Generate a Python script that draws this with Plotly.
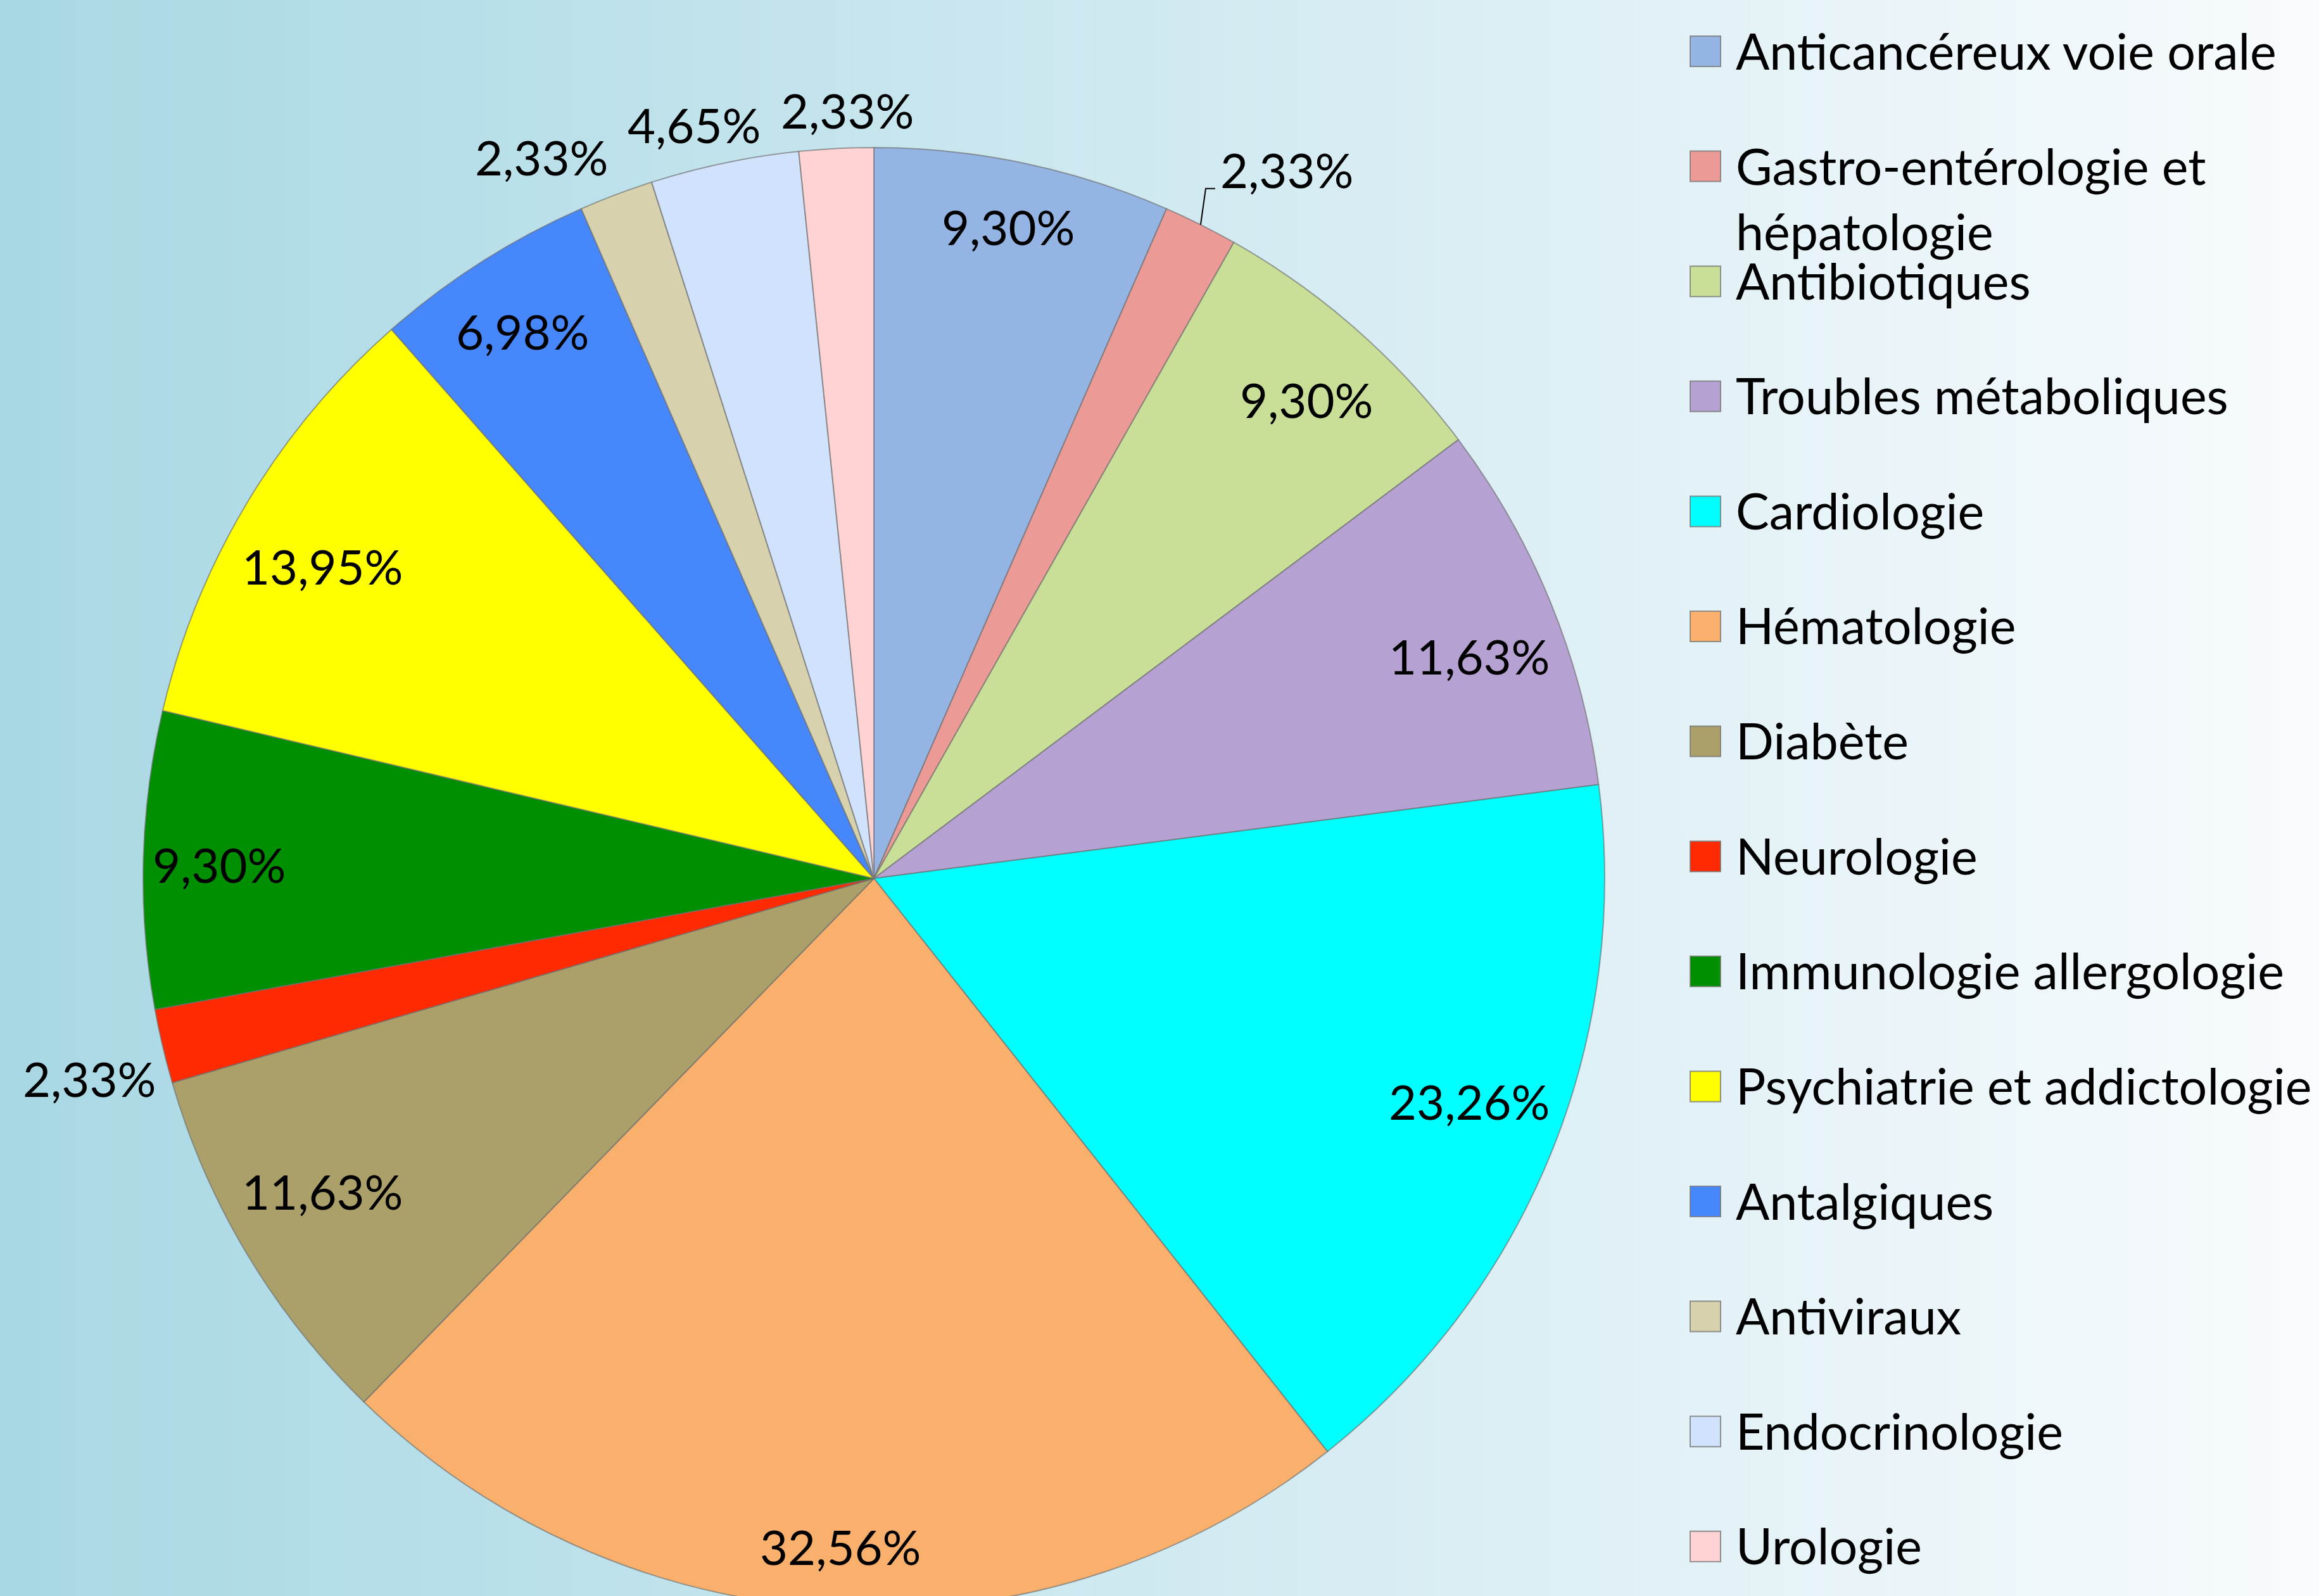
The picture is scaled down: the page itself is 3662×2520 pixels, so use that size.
import math
import plotly.graph_objects as go

# ---------------- data ----------------
categories = [
    "Anticancéreux voie orale",
    "Gastro-entérologie et<br>hépatologie",
    "Antibiotiques",
    "Troubles métaboliques",
    "Cardiologie",
    "Hématologie",
    "Diabète",
    "Neurologie",
    "Immunologie allergologie",
    "Psychiatrie et addictologie",
    "Antalgiques",
    "Antiviraux",
    "Endocrinologie",
    "Urologie",
]
counts = [4, 1, 4, 5, 10, 14, 5, 1, 4, 6, 3, 1, 2, 1]
percent_labels = ["9,30%", "2,33%", "9,30%", "11,63%", "23,26%", "32,56%", "11,63%",
                  "2,33%", "9,30%", "13,95%", "6,98%", "2,33%", "4,65%", "2,33%"]
label_side = ["in", "leader", "in", "in", "in", "in", "in",
              "out", "in", "in", "in", "out", "out", "out"]
colors = ["#94b4e4", "#eb9a96", "#c9df98", "#b6a2d2", "#00ffff", "#f9b06c", "#aba06a",
          "#ff2a00", "#008f00", "#ffff00", "#4687fc", "#d7d2ad", "#d0e2fc", "#ffd3d3"]

# ---------------- layout geometry ----------------
W, H = 3662, 2560          # figure slightly taller than the window: pie bottom is cut as in the original
FONT = "Lato"
FS = 76
FS_LEG = 79
cx, cy, R = 1380.0, 1387.0, 1154.0
dom_x = [(cx - R) / W, (cx + R) / W]
dom_y = [(H - (cy + R)) / H, (H - (cy - R)) / H]


def px(x):
    return x / W


def py(y):
    return 1 - y / H


def lerp_color(c1, c2, t):
    a = [int(c1[i:i + 2], 16) for i in (1, 3, 5)]
    b = [int(c2[i:i + 2], 16) for i in (1, 3, 5)]
    return "#" + "".join(f"{round(a[k] + (b[k] - a[k]) * t):02x}" for k in range(3))


shapes = []
# background gradient (left light blue -> right near white)
N = 220
for k in range(N):
    t = k / (N - 1)
    shapes.append(dict(type="rect", xref="paper", yref="paper", layer="below",
                       x0=k / N, x1=(k + 1) / N + 0.002, y0=0, y1=1,
                       line=dict(width=0), fillcolor=lerp_color("#a8d8e4", "#f8fbfd", t)))

fig = go.Figure(go.Pie(
    labels=[c.replace("<br>", " ") for c in categories],
    values=counts,
    sort=False,
    direction="clockwise",
    rotation=0,
    marker=dict(colors=colors, line=dict(color="rgba(110,110,110,0.65)", width=2)),
    textinfo="none",
    textposition="none",
    hoverinfo="skip",
    domain=dict(x=dom_x, y=dom_y),
    showlegend=False,
))

# ---------------- data labels ----------------
CHAR_INSET = 0.25 * FS       # horizontal inset per character (inside labels)
RX_IN = 0.979 * R
RY_IN = 0.915 * R
RY_FLAT = 0.172 * R
R_OUT = 1.012 * R
HALF_W_CHAR = 0.27 * FS      # half label width per character
OUT_B = 47
annotations = []
outside = []
total = sum(counts)
cum = 0
for i, c in enumerate(counts):
    mid = math.radians((cum + c / 2) / total * 360)
    cum += c
    s, co = math.sin(mid), math.cos(mid)
    n = len(percent_labels[i])
    side = label_side[i]
    if side == "in":
        rx = RX_IN - n * CHAR_INSET
        ry = RY_IN - RY_FLAT * (1 - abs(co))
        annotations.append(dict(x=px(cx + rx * s), y=py(cy - ry * co), text=percent_labels[i],
                                xanchor="center", yanchor="middle", showarrow=False))
    elif side == "out":
        half_w = n * HALF_W_CHAR
        ax, ay = cx + R_OUT * s, cy - R_OUT * co
        fx = math.copysign(min(1.0, (abs(s) / 0.35) ** 2), s)
        fy = max(-1.0, min(1.0, co / 0.2))
        outside.append([ax + half_w * fx, ay - OUT_B * fy, half_w, percent_labels[i]])
    else:  # leader line
        ex, ey = cx + R * s, cy - R * co
        elx, ely = ex + 8, ey - 57
        hx = elx + 15
        shapes.append(dict(type="path", xref="paper", yref="paper",
                           path=f"M {px(ex)} {py(ey)} L {px(elx)} {py(ely)} L {px(hx)} {py(ely)}",
                           line=dict(color="black", width=2)))
        annotations.append(dict(x=px(hx + 6), y=py(ely - 30), text=percent_labels[i],
                                xanchor="left", yanchor="middle", showarrow=False))

# simple overlap avoidance between neighbouring outside labels
GAP = 36
for _ in range(5):
    for a in range(len(outside)):
        for b in range(a + 1, len(outside)):
            A, B = outside[a], outside[b]
            if abs(A[1] - B[1]) < 0.8 * FS:
                need = A[2] + B[2] + GAP
                d = B[0] - A[0]
                if abs(d) < need:
                    push = (need - abs(d)) / 2
                    sgn = 1 if d >= 0 else -1
                    A[0] -= sgn * push
                    B[0] += sgn * push
for x, y, _, t in outside:
    annotations.append(dict(x=px(x), y=py(y), text=t, xanchor="center", yanchor="middle",
                            showarrow=False))

# ---------------- legend (drawn manually, Excel-like spacing) ----------------
leg_x_marker = 2669
msize = 48
leg_x_text = 2739
leg_y0 = 79
leg_dy = 181.6
for i, cat in enumerate(categories):
    yc = leg_y0 + i * leg_dy
    shapes.append(dict(type="rect", xref="paper", yref="paper",
                       x0=px(leg_x_marker), x1=px(leg_x_marker + msize),
                       y0=py(yc + 2 + msize / 2), y1=py(yc + 2 - msize / 2),
                       fillcolor=colors[i], line=dict(color="rgba(120,120,120,0.8)", width=2)))
    two = "<br>" in cat
    annotations.append(dict(x=px(leg_x_text), y=py(yc), text=cat, xanchor="left",
                            yanchor="top" if two else "middle",
                            align="left", showarrow=False,
                            font=dict(size=FS_LEG),
                            yshift=(FS_LEG * 0.62 if two else 0)))

fig.update_layout(
    width=W, height=H,
    margin=dict(l=0, r=0, t=0, b=0),
    paper_bgcolor="#cfe9f0",
    plot_bgcolor="rgba(0,0,0,0)",
    font=dict(family=FONT, size=FS, color="black"),
    shapes=shapes,
    annotations=annotations,
    showlegend=False,
)

fig.write_html(
    "out.html",
    config={"displayModeBar": False},
    post_script=("document.body.style.margin='0';"
                 "document.body.style.overflow='hidden';"
                 "document.documentElement.style.overflow='hidden';"),
)
